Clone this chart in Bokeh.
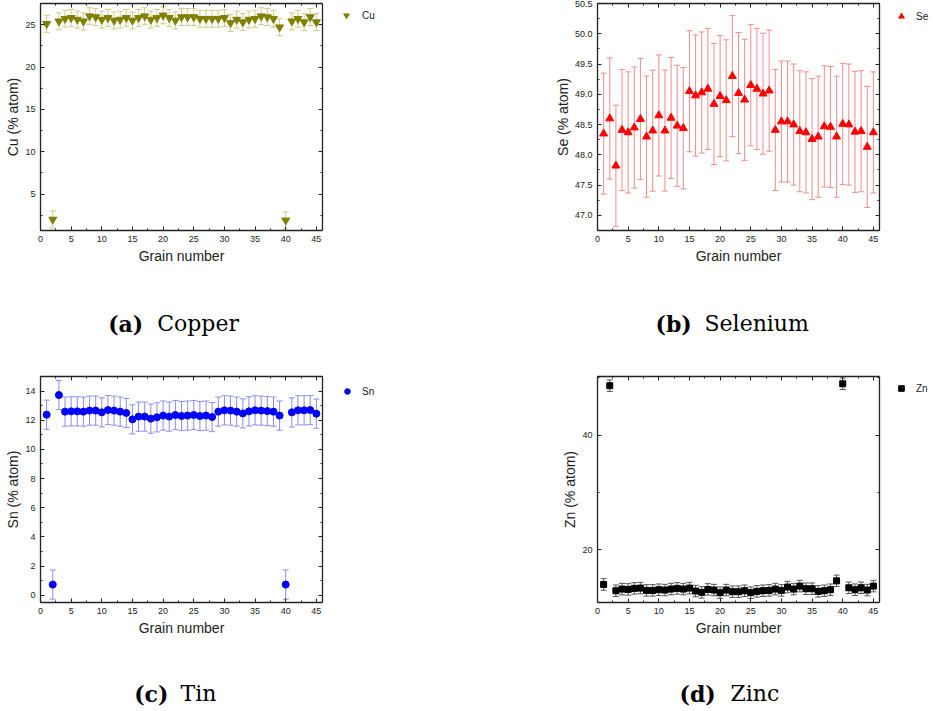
from bokeh.plotting import figure
from bokeh.layouts import column, row
from bokeh.models import (ColumnDataSource, Range1d, LinearAxis, SingleIntervalTicker,
                          Whisker, TeeHead, Legend, LegendItem, PrintfTickFormatter)
from bokeh.core.properties import value
from bokeh.embed import file_html
from bokeh.resources import INLINE

grain = list(range(1, 46))

cu = [25.1, 2.0, 25.4, 25.7, 25.8, 25.6, 25.4, 26.0, 25.9, 25.6,
      25.8, 25.5, 25.6, 25.8, 25.5, 25.8, 26.0, 25.6, 25.8, 26.1,
      25.8, 25.5, 25.9, 25.9, 25.9, 25.7, 25.7, 25.7, 25.7, 25.8,
      25.2, 25.6, 25.3, 25.6, 25.7, 26.0, 25.9, 25.7, 24.7, 1.9,
      25.4, 25.7, 25.3, 25.9, 25.3]
cu_err = [1.0, 1.0, 1.0, 1.0, 1.0, 1.0, 1.0, 1.0, 1.0, 1.0,
          1.0, 1.0, 1.0, 1.0, 1.0, 1.0, 1.0, 1.0, 1.0, 1.0,
          1.0, 1.0, 1.0, 1.0, 1.0, 1.0, 1.0, 1.0, 1.0, 1.0,
          1.0, 1.0, 1.0, 1.0, 1.0, 1.0, 1.0, 1.0, 1.0, 1.0,
          1.0, 1.0, 1.0, 1.0, 1.0]

se = [48.35, 48.60, 47.82, 48.41, 48.37, 48.45, 48.59, 48.30, 48.40, 48.65,
      48.40, 48.61, 48.48, 48.44, 49.05, 48.98, 49.03, 49.09, 48.84, 48.97,
      48.90, 49.30, 49.02, 48.91, 49.15, 49.09, 49.01, 49.06, 48.41, 48.55,
      48.55, 48.50, 48.39, 48.37, 48.26, 48.30, 48.47, 48.46, 48.30, 48.51,
      48.50, 48.38, 48.39, 48.13, 48.37]
se_err = [1.0, 1.0, 1.0, 1.0, 1.0, 1.0, 1.0, 1.0, 1.0, 1.0,
          1.0, 1.0, 1.0, 1.0, 1.0, 1.0, 1.0, 1.0, 1.0, 1.0,
          1.0, 1.0, 1.0, 1.0, 1.0, 1.0, 1.0, 1.0, 1.0, 1.0,
          1.0, 1.0, 1.0, 1.0, 1.0, 1.0, 1.0, 1.0, 1.0, 1.0,
          1.0, 1.0, 1.0, 1.0, 1.0]

sn = [12.38, 0.73, 13.73, 12.59, 12.61, 12.61, 12.59, 12.66, 12.66, 12.54,
      12.70, 12.66, 12.59, 12.50, 12.06, 12.25, 12.25, 12.11, 12.20, 12.32,
      12.25, 12.36, 12.29, 12.32, 12.36, 12.29, 12.32, 12.22, 12.59, 12.68,
      12.66, 12.59, 12.47, 12.61, 12.68, 12.66, 12.63, 12.59, 12.32, 0.73,
      12.54, 12.68, 12.68, 12.70, 12.45]
sn_err = [1.0, 1.0, 1.0, 1.0, 1.0, 1.0, 1.0, 1.0, 1.0, 1.0,
          1.0, 1.0, 1.0, 1.0, 1.0, 1.0, 1.0, 1.0, 1.0, 1.0,
          1.0, 1.0, 1.0, 1.0, 1.0, 1.0, 1.0, 1.0, 1.0, 1.0,
          1.0, 1.0, 1.0, 1.0, 1.0, 1.0, 1.0, 1.0, 1.0, 1.0,
          1.0, 1.0, 1.0, 1.0, 1.0]

zn = [13.95, 48.60, 12.85, 13.14, 13.08, 13.26, 13.31, 12.91, 12.91, 13.03,
      12.97, 13.14, 13.26, 13.14, 13.31, 12.80, 12.57, 13.08, 12.97, 12.51,
      12.97, 12.68, 12.68, 12.85, 12.51, 12.74, 12.85, 12.91, 13.14, 12.91,
      13.49, 13.14, 13.66, 13.20, 13.20, 12.74, 12.85, 13.03, 14.58, 48.93,
      13.37, 13.03, 13.37, 12.97, 13.66]
zn_err = [1.0, 1.0, 1.0, 1.0, 1.0, 1.0, 1.0, 1.0, 1.0, 1.0,
          1.0, 1.0, 1.0, 1.0, 1.0, 1.0, 1.0, 1.0, 1.0, 1.0,
          1.0, 1.0, 1.0, 1.0, 1.0, 1.0, 1.0, 1.0, 1.0, 1.0,
          1.0, 1.0, 1.0, 1.0, 1.0, 1.0, 1.0, 1.0, 1.0, 1.0,
          1.0, 1.0, 1.0, 1.0, 1.0]

cap_tags_top = ["(a)", "(b)"]
cap_names_top = ["Copper", "Selenium"]
cap_tags_bottom = ["(c)", "(d)"]
cap_names_bottom = ["Tin", "Zinc"]

SANS = "Liberation Sans"
SERIF = "DejaVu Serif"


def style_axis(ax, ticker, labels=True):
    ax.ticker = ticker
    ax.major_tick_in = 4
    ax.major_tick_out = 0
    ax.minor_tick_in = 2
    ax.minor_tick_out = 0
    ax.axis_line_color = "#222222"
    ax.axis_line_width = 1.3
    ax.major_tick_line_color = "#222222"
    ax.minor_tick_line_color = "#222222"
    if labels:
        ax.major_label_text_font = SANS
        ax.major_label_text_font_size = "9px"
        ax.major_label_text_color = "#222222"
        ax.axis_label_text_font = SANS
        ax.axis_label_text_font_size = "14px"
        ax.axis_label_text_font_style = "normal"
        ax.axis_label_text_color = "#222222"
    else:
        ax.major_label_text_font_size = "0px"
        ax.major_label_standoff = 0


def make_source(y, err):
    upper = [v + e for v, e in zip(y, err)]
    lower = [v - e for v, e in zip(y, err)]
    return ColumnDataSource(dict(x=grain, y=y, upper=upper, lower=lower))


def make_panel(src, yrange, color, ecolor, marker, msize, ylabel,
               yint, yfmt, width, height, bl, br, bt, bb):
    p = figure(width=width, height=height, output_backend="svg", toolbar_location=None,
               x_range=Range1d(0, 46), y_range=Range1d(*yrange),
               min_border_left=bl, min_border_right=br, min_border_top=bt,
               min_border_bottom=bb)
    p.xgrid.visible = False
    p.ygrid.visible = False
    p.outline_line_color = None
    p.background_fill_color = "white"
    p.border_fill_color = "white"

    w = Whisker(source=src, base="x", upper="upper", lower="lower",
                line_color=ecolor, line_width=1, level="underlay",
                upper_head=TeeHead(size=6, line_color=ecolor, line_width=1),
                lower_head=TeeHead(size=6, line_color=ecolor, line_width=1))
    p.add_layout(w)
    p.scatter(x="x", y="y", source=src, marker=marker, size=msize,
              fill_color=color, line_color=color)

    style_axis(p.xaxis[0], SingleIntervalTicker(interval=5, num_minor_ticks=2))
    style_axis(p.yaxis[0], SingleIntervalTicker(interval=yint, num_minor_ticks=2))
    p.xaxis[0].axis_label = "Grain number"
    p.yaxis[0].axis_label = ylabel
    p.yaxis[0].axis_label_standoff = 1
    p.xaxis[0].axis_label_standoff = 3
    if yfmt:
        p.yaxis[0].formatter = PrintfTickFormatter(format=yfmt)

    top = LinearAxis()
    style_axis(top, SingleIntervalTicker(interval=5, num_minor_ticks=2), labels=False)
    p.add_layout(top, "above")
    right = LinearAxis()
    style_axis(right, SingleIntervalTicker(interval=yint, num_minor_ticks=2), labels=False)
    p.add_layout(right, "right")
    return p


def make_legend(src, name, color, marker, msize, width, height, left, top, bottom,
                margin, standoff):
    # key panel: the series is drawn out of view, only its legend entry shows
    lf = figure(width=width, height=height, output_backend="svg", toolbar_location=None,
                x_range=Range1d(-3, -2), y_range=Range1d(-3, -2),
                x_axis_type=None, y_axis_type=None,
                min_border_left=left, min_border_top=top,
                min_border_right=0, min_border_bottom=bottom)
    lf.xgrid.visible = False
    lf.ygrid.visible = False
    lf.outline_line_color = None
    r = lf.scatter(x="x", y="y", source=src, marker=marker, size=msize,
                   fill_color=color, line_color=color)
    leg = Legend(items=[LegendItem(label=name, renderers=[r])], location="top_left",
                 padding=0, margin=margin, spacing=0, glyph_width=14, glyph_height=14,
                 label_height=14, label_standoff=standoff, border_line_color=None,
                 background_fill_alpha=0, label_text_font=SANS,
                 label_text_font_size="10px", label_text_color="#222222")
    lf.add_layout(leg)
    return lf


def make_caption(height, tags, tag_x, names, name_x, base_y):
    c = figure(width=933, height=height, output_backend="svg", toolbar_location=None,
               x_range=Range1d(0, 933), y_range=Range1d(height, 0),
               x_axis_type=None, y_axis_type=None, min_border=0)
    c.xgrid.visible = False
    c.ygrid.visible = False
    c.outline_line_color = None
    c.text(x=tag_x, y=[base_y] * len(tags), text=tags, text_font=value(SERIF),
           text_font_size=value("22px"), text_font_style="bold",
           text_baseline="alphabetic", text_color="black")
    c.text(x=name_x, y=[base_y] * len(names), text=names, text_font=value(SERIF),
           text_font_size=value("22px"), text_font_style="normal",
           text_baseline="alphabetic", text_color="black")
    return c


s_cu = make_source(cu, cu_err)
s_se = make_source(se, se_err)
s_sn = make_source(sn, sn_err)
s_zn = make_source(zn, zn_err)

pa = make_panel(s_cu, (0.7, 27.5), "#808000", "#cdcd8a", "inverted_triangle", 8,
                "Cu (% atom)", 5, None, 324, 270, 40, 2, 3, 40)
la = make_legend(s_cu, "Cu", "#808000", "inverted_triangle", 8, 142, 270, 10, 3, 40, 5, 9)
pb = make_panel(s_se, (46.75, 50.5), "#ff0000", "#f28c8c", "triangle", 8,
                "Se (% atom)", 0.5, "%.1f", 415, 270, 131, 2, 3, 40)
lb = make_legend(s_se, "Se", "#ff0000", "triangle", 8, 52, 270, 7, 3, 40, 6, 8)
pc = make_panel(s_sn, (-0.5, 15.0), "#0000ff", "#8c8cf0", "circle", 7,
                "Sn (% atom)", 2, None, 324, 270, 40, 2, 4, 40)
lc = make_legend(s_sn, "Sn", "#0000ff", "circle", 7, 142, 270, 8, 4, 40, 8, 8)
pd = make_panel(s_zn, (10.8, 50.2), "#000000", "#555555", "square", 6,
                "Zn (% atom)", 20, None, 415, 270, 131, 2, 4, 40)
ld = make_legend(s_zn, "Zn", "#000000", "square", 6, 52, 270, 8, 4, 40, 5, 8)

cap1 = make_caption(102, cap_tags_top, [107.7, 655], cap_names_top, [156.7, 704], 53)
cap2 = make_caption(69, cap_tags_bottom, [133.7, 679], cap_names_bottom, [180, 730], 51)

layout = column(row(pa, la, pb, lb, spacing=0), cap1,
                row(pc, lc, pd, ld, spacing=0), cap2, spacing=0)
open("out.html", "w").write(file_html(layout, INLINE))
